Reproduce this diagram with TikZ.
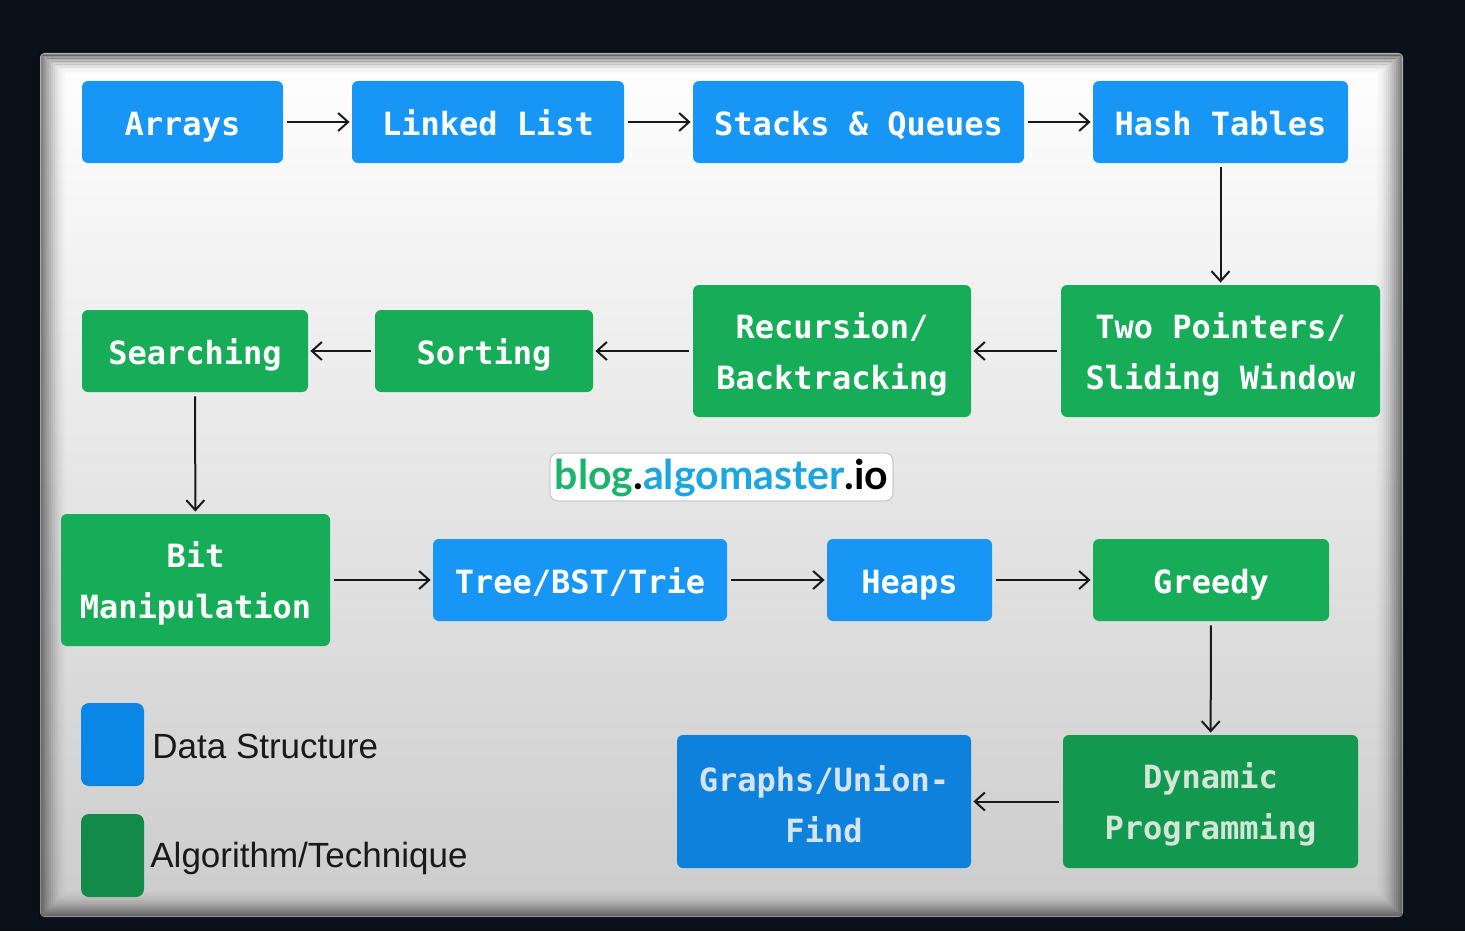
\documentclass[tikz,border=0pt]{standalone}
\usepackage{fontspec}
\setmainfont{DejaVu Sans Mono}
\newfontfamily\monob{DejaVu Sans Mono}
\newfontfamily\legfont{Liberation Sans}
\newfontfamily\blogfont{Lato}
\usetikzlibrary{arrows.meta}
\definecolor{bgdark}{HTML}{0C101B}
\definecolor{dsblue}{HTML}{1796F5}
\definecolor{dsbluedk}{HTML}{0E81DC}
\definecolor{algreen}{HTML}{17AC58}
\definecolor{algreendk}{HTML}{13994F}
\definecolor{legblue}{HTML}{0A87E6}
\definecolor{leggreen}{HTML}{138A48}
\definecolor{blogg}{HTML}{1CB46C}
\definecolor{blogb}{HTML}{1AA6DF}
\definecolor{fadetxtg}{HTML}{D3E6D8}
\definecolor{fadetxtb}{HTML}{D6E4EE}
\newcommand{\toppad}{\rule{0pt}{16pt}}
\tikzset{
  box/.style={rounded corners=3pt, inner sep=0pt, text=white, align=center,
    font=\monob\bfseries\fontsize{16}{25.5}\selectfont},
  one/.style={text height=15.2pt, text depth=1.5pt, minimum height=41pt},
  ds/.style={box, fill=dsblue},
  al/.style={box, fill=algreen},
  arr/.style={-{Straight Barb[length=5pt,width=9pt]}, line width=1pt, draw=black!90,
    shorten <=2pt, shorten >=1pt},
  legsq/.style={rounded corners=4pt, inner sep=0pt, minimum width=31.5pt, minimum height=41.5pt},
  legtxt/.style={anchor=west, inner sep=0pt, text=black!90,
    font=\legfont\fontsize{17.5}{20}\selectfont}
}
\begin{document}
\begin{tikzpicture}[x=0.5pt,y=-0.5pt]
% background
\fill[bgdark] (0,0) rectangle (1465,931);
\useasboundingbox (0,0) rectangle (1465,931);
% panel
\shade[rounded corners=2pt, top color=white, middle color=white!94!black, bottom color=white!80!black]
  (40,53) rectangle (1403,917);
\foreach \i in {0,...,13}{
  \pgfmathsetmacro{\op}{0.3*(1-\i/14)^2}
  \draw[black, line width=1.6pt, opacity=\op] (41+2*\i,54+1.5*\i) rectangle (1402-2*\i,916-2*\i);
}
% nodes row 1
\node[ds, one, minimum width=100.5pt] (arrays) at (182.5,122) {Arrays};
\node[ds, one, minimum width=136pt] (linked) at (488,122) {Linked List};
\node[ds, one, minimum width=165.5pt] (stacks) at (858.5,122) {Stacks \& Queues};
\node[ds, one, minimum width=127.5pt] (hash) at (1220.5,122) {Hash Tables};
% row 2
\node[al, minimum width=159.5pt, minimum height=66pt] (twoptr) at (1220.5,351) {\toppad Two Pointers/\\Sliding Window};
\node[al, minimum width=139pt, minimum height=66pt] (recur) at (832,351) {\toppad Recursion/\\Backtracking};
\node[al, one, minimum width=109pt] (sorting) at (484,351) {Sorting};
\node[al, one, minimum width=113pt] (search) at (195,351) {Searching};
% row 3
\node[al, minimum width=134.5pt, minimum height=66pt] (bit) at (195.5,580) {\toppad Bit\\Manipulation};
\node[ds, one, minimum width=147pt] (tree) at (580,580) {Tree/BST/Trie};
\node[ds, one, minimum width=82.5pt] (heaps) at (909.5,580) {Heaps};
\node[al, one, minimum width=118pt] (greedy) at (1211,580) {Greedy};
% row 4
\node[al, fill=algreendk, text=fadetxtg, minimum width=147.5pt, minimum height=66.5pt] (dp) at (1210.5,801.5) {\toppad Dynamic\\Programming};
\node[ds, fill=dsbluedk, text=fadetxtb, minimum width=147pt, minimum height=66.5pt] (graphs) at (824,801.5) {\toppad Graphs/Union-\\Find};
% blog label
\node[draw=black!20, line width=0.6pt, fill=white, rounded corners=4pt, inner sep=0pt,
  minimum width=171.5pt, minimum height=24pt, text height=15.5pt, text depth=3.5pt,
  font=\blogfont\bfseries\fontsize{20.5}{24}\selectfont] (blog) at (721.5,477)
  {\textcolor{blogg}{blog}\textcolor{black}{.}\textcolor{blogb}{algomaster}\textcolor{black}{.io}};
% legend
\node[legsq, fill=legblue] (legds) at (112.5,744.5) {};
\node[legsq, fill=leggreen] (legal) at (112.5,855.5) {};
\node[legtxt] (legdstxt) at (152,746) {Data Structure};
\node[legtxt] (legaltxt) at (150,858) {Algorithm/Technique};
% arrows
\draw[arr] (arrays) -- (linked);
\draw[arr] (linked) -- (stacks);
\draw[arr] (stacks) -- (hash);
\draw[arr] (hash) -- (twoptr);
\draw[arr] (twoptr) -- (recur);
\draw[arr] (recur) -- (sorting);
\draw[arr] (sorting) -- (search);
\draw[arr] (search) -- (bit);
\draw[arr] (bit) -- (tree);
\draw[arr] (tree) -- (heaps);
\draw[arr] (heaps) -- (greedy);
\draw[arr] (greedy) -- (dp);
\draw[arr] (dp) -- (graphs);
\end{tikzpicture}
\end{document}
